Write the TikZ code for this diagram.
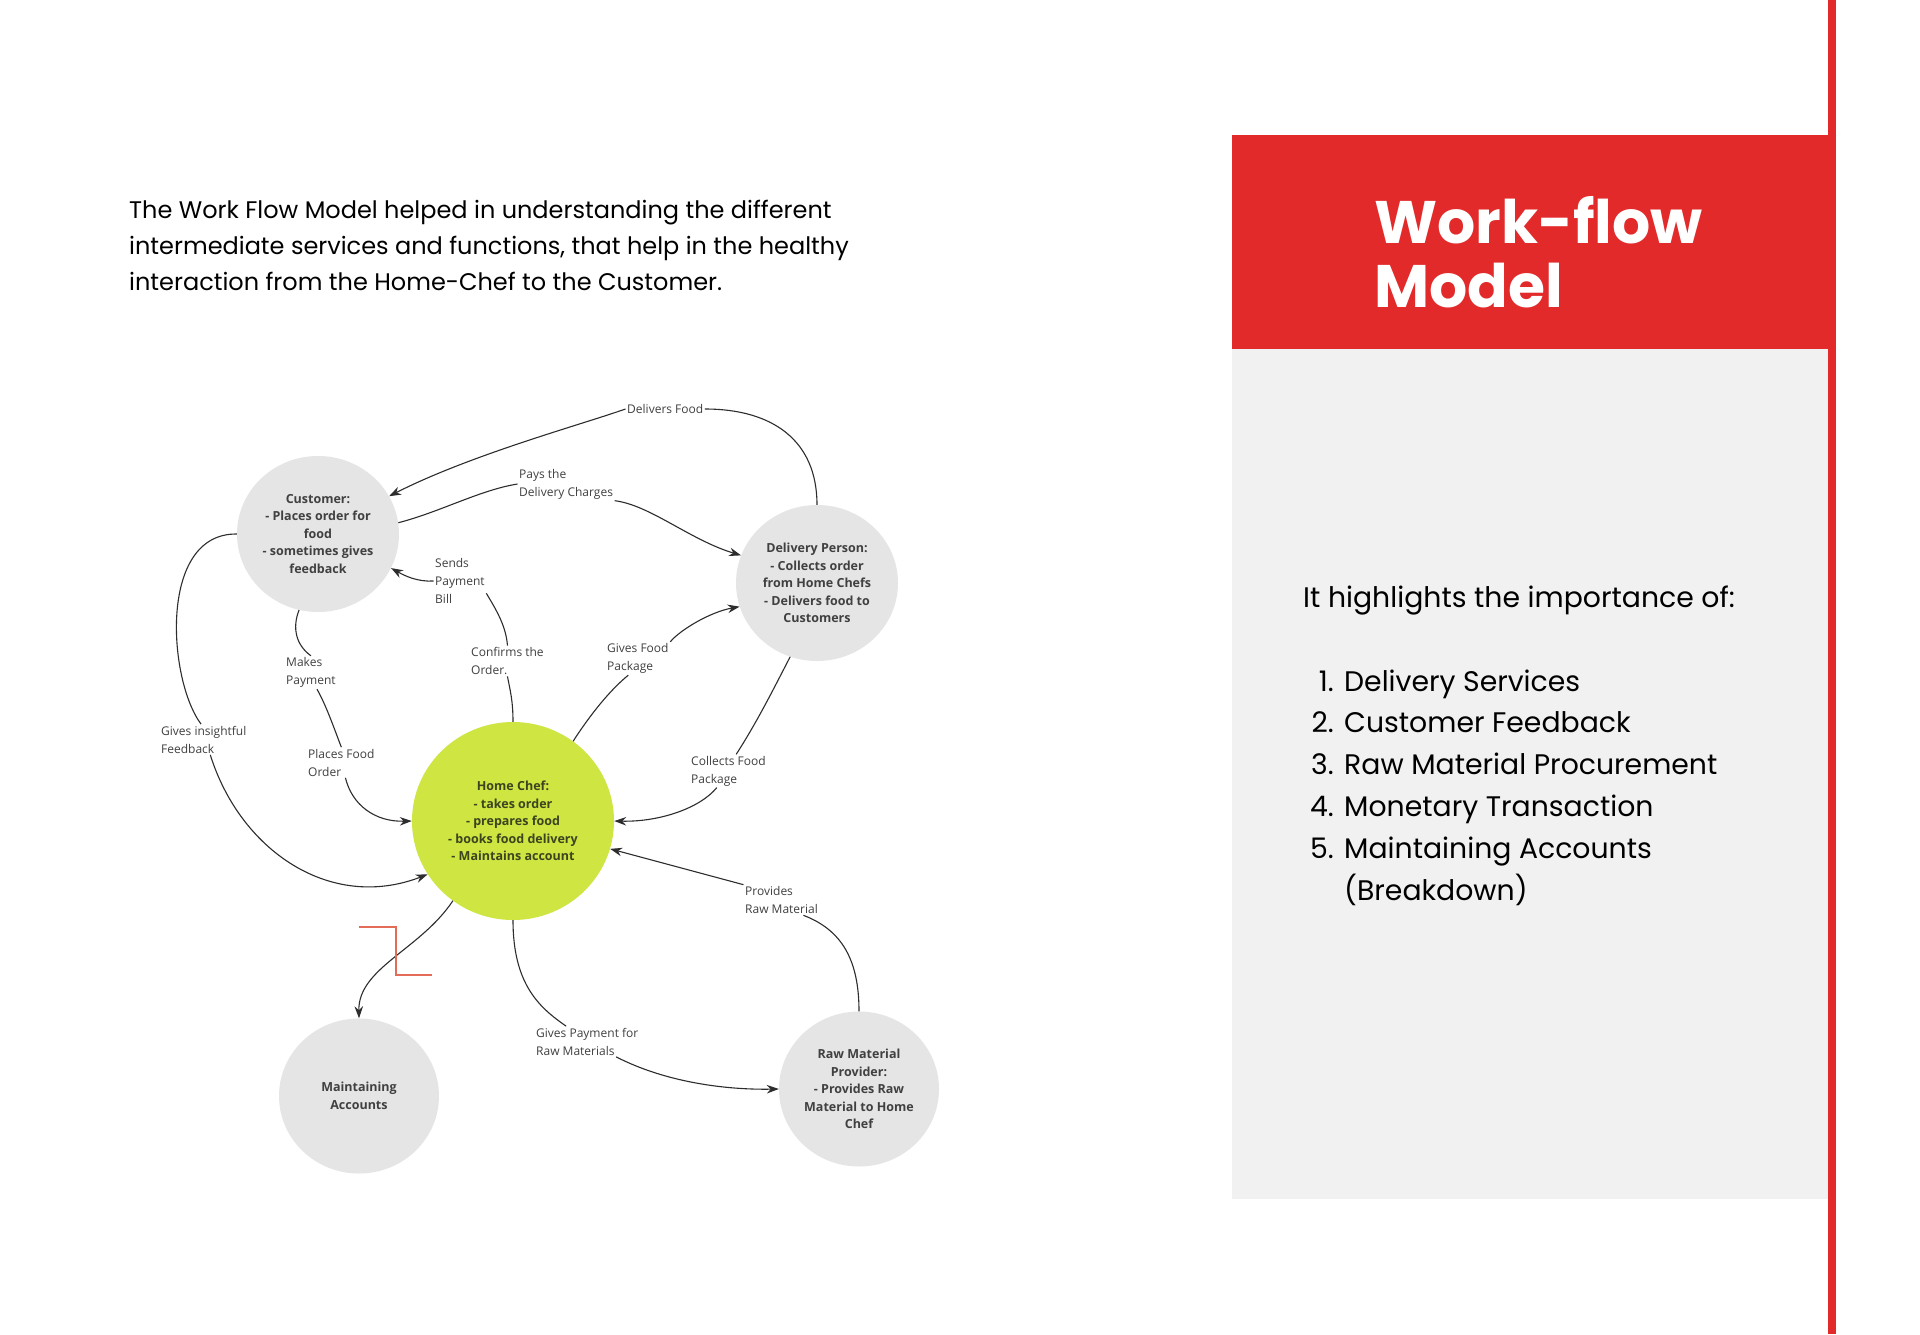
\documentclass[tikz,border=0pt]{standalone}
\usepackage{fontspec}
\setmainfont{Poppins}
\newfontfamily\labelfont{Open Sans}
\usetikzlibrary{shapes.geometric,arrows.meta,positioning}
\definecolor{headred}{RGB}{226,42,43}
\definecolor{panelgray}{RGB}{241,241,241}
\definecolor{bubblegray}{RGB}{229,229,229}
\definecolor{chefgreen}{RGB}{206,229,66}
\definecolor{chefink}{RGB}{60,68,32}
\definecolor{inkgray}{RGB}{64,64,64}
\definecolor{linkgray}{RGB}{45,45,45}
\definecolor{markred}{RGB}{226,108,88}
\tikzset{
  bubble/.style={ellipse, fill=bubblegray, inner sep=0pt, minimum width=162pt, minimum height=156pt,
    align=center, text=inkgray, font=\labelfont\bfseries\fontsize{12.5}{17.5}\selectfont},
  lbl/.style={fill=white, inner sep=1.5pt, anchor=west, align=left, text=inkgray,
    font=\labelfont\fontsize{12}{18}\selectfont},
  flow/.style={draw=linkgray, line width=1.1pt, -{Stealth[length=12pt,width=8.5pt]}},
  listtext/.style={inner sep=0pt, font=\fontsize{28.3}{41.8}\selectfont},
}

\begin{document}
\begin{tikzpicture}[x=1pt, y=-1pt]
    \useasboundingbox (0,0) rectangle (1920,1334);
    \fill[white] (0,0) rectangle (1920,1334);

    % Right panel
    \fill[panelgray] (1232,349) rectangle (1828,1199);
    \fill[headred] (1232,135) rectangle (1836,349);
    \fill[headred] (1828,0) rectangle (1836,1334);
    \node[anchor=base west, inner sep=0pt, align=left, text=white,
          font=\bfseries\fontsize{60}{64.5}\selectfont] (title) at (1374,307.5) {Work-flow\\Model};
    \node[listtext, anchor=base west] (lead) at (1303,607) {It highlights the importance of:};
    \foreach \n/\t [count=\k from 0] in {1/Delivery Services, 2/Customer Feedback,
        3/Raw Material Procurement, 4/Monetary Transaction, 5/Maintaining Accounts} {
        \node[listtext, anchor=base east] (num\n) at (1334,{691+41.8*\k}) {\n.};
        \node[listtext, anchor=base west] (item\n) at (1344,{691+41.8*\k}) {\t};
    }
    \node[listtext, anchor=base west] (itembreak) at (1344,900) {(Breakdown)};

    % Intro text
    \node[anchor=base west, inner sep=0pt, align=left, font=\fontsize{24}{36}\selectfont] (intro) at (129,290)
        {The Work Flow Model helped in understanding the different\\
         intermediate services and functions, that help in the healthy\\
         interaction from the Home-Chef to the Customer.};

    % Actors
    \node[bubble] (cust) at (318,534) {Customer:\\- Places order for\\food\\- sometimes gives\\feedback};
    \node[bubble] (dp) at (817,583) {Delivery Person:\\- Collects order\\from Home Chefs\\- Delivers food to\\Customers};
    \node[bubble, fill=chefgreen, text=chefink, minimum width=202pt, minimum height=198pt] (hc) at (513,821)
        {Home Chef:\\- takes order\\- prepares food\\- books food delivery\\- Maintains account};
    \node[bubble, minimum width=160pt, minimum height=155pt] (ma) at (359,1096) {Maintaining\\Accounts};
    \node[bubble, minimum width=160pt, minimum height=155pt] (rmp) at (859,1089)
        {Raw Material\\Provider:\\- Provides Raw\\Material to Home\\Chef};

    % Labels
    \node[lbl] (ldeliver) at (625.5,409) {Delivers Food};
    \node[lbl] (lpays) at (517.5,484) {Pays the\\Delivery Charges};
    \node[lbl] (lbill) at (433.5,581) {Sends\\Payment\\Bill};
    \node[lbl] (lconfirm) at (469.5,661) {Confirms the\\Order.};
    \node[lbl] (lgives) at (605.5,658.5) {Gives Food\\Package};
    \node[lbl] (lmakes) at (284.5,672.5) {Makes\\Payment};
    \node[lbl] (lplaces) at (306.5,762.5) {Places Food\\Order};
    \node[lbl] (lfeedback) at (159.5,739.5) {Gives insightful\\Feedback};
    \node[lbl] (lcollects) at (689.5,771) {Collects Food\\Package};
    \node[lbl] (lprovides) at (743.5,900) {Provides\\Raw Material};
    \node[lbl] (lpayment) at (534.5,1041.5) {Gives Payment for\\Raw Materials};

    % Flows
    \draw[flow] (dp.north) .. controls (817,440) and (772,409) .. (ldeliver.east)
        (ldeliver.west) .. controls (580,425) and (470,455) .. (cust.28);
    \draw[flow] (cust.8) .. controls (440,512) and (480,490) .. (lpays.west)
        (lpays.south east) .. controls (650,505) and (690,540) .. (dp.160);
    \draw[flow] (hc.north) .. controls (513,700) and (510,690) .. (lconfirm.south)
        (lconfirm.north) .. controls (506,625) and (495,608) .. (lbill.-25)
        (lbill.west) .. controls (418,582) and (405,576) .. (cust.-25);
    \draw[flow] (hc.53) .. controls (590,715) and (610,690) .. (lgives.-120)
        (lgives.north east) .. controls (680,630) and (710,612) .. (dp.197);
    \draw[flow] (cust.-104) .. controls (292,628) and (296,645) .. (lmakes.north)
        (lmakes.-70) .. controls (326,705) and (334,728) .. (lplaces.north)
        (lplaces.-75) .. controls (352,805) and (375,822) .. (hc.west);
    \draw[flow] (cust.west) .. controls (158,533) and (168,680) .. (lfeedback.100)
        (lfeedback.-67) .. controls (240,850) and (330,912) .. (hc.-148);
    \draw[flow] (dp.-110) .. controls (773,690) and (757,722) .. (lcollects.65)
        (lcollects.-125) .. controls (700,808) and (660,822) .. (hc.east);
    \draw[flow] (rmp.north) .. controls (859,960) and (842,930) .. (lprovides.-35)
        (lprovides.north west) -- (hc.-16);
    \draw[flow] (hc.-127) .. controls (420,950) and (358,968) .. (ma.north);
    \draw[flow] (hc.south) .. controls (513,985) and (540,1008) .. (lpayment.144)
        (lpayment.-28) .. controls (665,1082) and (725,1090) .. (rmp.west);

    % Marker
    \draw[markred, line width=2.6pt] (359,927) -- (396,927) -- (396,975) -- (432,975);
\end{tikzpicture}
\end{document}
